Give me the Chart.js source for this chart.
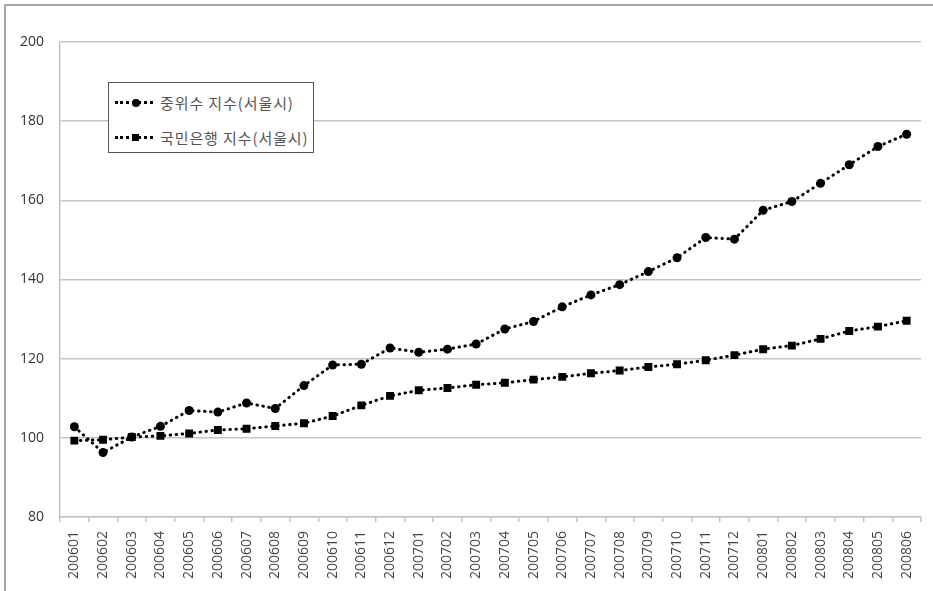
<!DOCTYPE html>
<html>
<head>
<meta charset="utf-8">
<script src="https://cdn.jsdelivr.net/npm/chart.js@4.4.1/dist/chart.umd.min.js"></script>
<style>
  html, body { margin: 0; padding: 0; background: #fff; }
  #wrap { position: relative; width: 933px; height: 591px; overflow: hidden; }
  #frame {
    position: absolute; left: 4px; top: 4px; width: 1000px; height: 700px;
    border-left: 2px solid #a6a6a6; border-top: 2px solid #a6a6a6;
  }
  #chart { position: absolute; left: 0; top: 0; }
  #legend {
    position: absolute; left: 108px; top: 82px; width: 204px; height: 69px;
    border: 1px solid #555; background: #fff;
    font-family: "Noto Sans CJK KR", sans-serif; font-size: 15px; color: #555;
    letter-spacing: 0.9px;
  }
  .row { position: absolute; left: 0; height: 20px; }
  .sample { position: absolute; left: 6px; top: 8px; width: 38px; border-top: 3px dotted #000; }
  .mark { position: absolute; left: 17px; background: #000; }
  .mark.circle { width: 8px; height: 8px; border-radius: 50%; top: -5.5px; }
  .mark.square { width: 7px; height: 7px; top: -5px; }
  .label { position: absolute; left: 51px; top: -1px; white-space: nowrap; }
</style>
</head>
<body>
<div id="wrap">
  <div id="frame"></div>
  <canvas id="chart" width="933" height="591"></canvas>
  <div id="legend">
    <div class="row" style="top: 10px;">
      <div class="sample"><div class="mark circle"></div></div>
      <div class="label">중위수 지수(서울시)</div>
    </div>
    <div class="row" style="top: 45px;">
      <div class="sample"><div class="mark square"></div></div>
      <div class="label">국민은행 지수(서울시)</div>
    </div>
  </div>
</div>
<script>
const months = ['200601', '200602', '200603', '200604', '200605', '200606', '200607', '200608',
  '200609', '200610', '200611', '200612', '200701', '200702', '200703', '200704', '200705',
  '200706', '200707', '200708', '200709', '200710', '200711', '200712', '200801', '200802',
  '200803', '200804', '200805', '200806'];

const medianIndex = [102.8, 96.3, 100.2, 102.9, 106.9, 106.5, 108.8, 107.4, 113.2, 118.4, 118.6, 122.7,
  121.6, 122.4, 123.7, 127.5, 129.4, 133.1, 136.1, 138.7, 142.0, 145.5, 150.6, 150.2,
  157.5, 159.7, 164.3, 169.0, 173.6, 176.7];

const kbIndex = [99.3, 99.5, 100.2, 100.5, 101.1, 102.0, 102.3, 103.0, 103.7, 105.5, 108.2, 110.6,
  112.0, 112.6, 113.4, 113.9, 114.7, 115.4, 116.3, 117.0, 117.9, 118.6, 119.6, 120.9,
  122.4, 123.3, 125.0, 127.0, 128.1, 129.6];

const yMin = 80;
const yMax = 200;
const yStep = 20;

const tickFont = { family: '"Open Sans", sans-serif', size: 14 };
const gridColor = '#c4c4c4';

const ctx = document.getElementById('chart').getContext('2d');

new Chart(ctx, {
  type: 'line',
  data: {
    labels: months,
    datasets: [{
      label: '중위수 지수(서울시)',
      data: medianIndex,
      borderColor: '#000',
      backgroundColor: '#000',
      borderWidth: 3,
      borderDash: [0.5, 5.5],
      borderCapStyle: 'round',
      tension: 0,
      pointStyle: 'circle',
      pointRadius: 4.5,
      pointBorderWidth: 0
    }, {
      label: '국민은행 지수(서울시)',
      data: kbIndex,
      borderColor: '#000',
      backgroundColor: '#000',
      borderWidth: 3,
      borderDash: [0.5, 5.5],
      borderCapStyle: 'round',
      tension: 0,
      pointStyle: 'rect',
      pointRadius: 5.6,
      pointBorderWidth: 0
    }]
  },
  options: {
    responsive: false,
    animation: false,
    layout: { padding: { top: 42, right: 12, left: 0, bottom: 0 } },
    plugins: {
      legend: { display: false },
      tooltip: { enabled: false }
    },
    scales: {
      x: {
        offset: true,
        grid: {
          offset: true,
          drawOnChartArea: false,
          drawTicks: true,
          tickLength: 5,
          color: gridColor,
          lineWidth: 1.5
        },
        border: { color: gridColor, width: 1.5 },
        ticks: {
          font: tickFont,
          color: '#444',
          minRotation: 90,
          maxRotation: 90,
          padding: 9,
          autoSkip: false
        },
        afterFit: (scale) => { scale.height = 74; }
      },
      y: {
        min: yMin,
        max: yMax,
        grid: {
          drawTicks: false,
          color: gridColor,
          lineWidth: 1.5
        },
        border: { color: gridColor, width: 1.5 },
        ticks: {
          stepSize: yStep,
          font: tickFont,
          color: '#333',
          padding: 16
        },
        afterFit: (scale) => { scale.width = 60; }
      }
    }
  }
});
</script>
</body>
</html>
